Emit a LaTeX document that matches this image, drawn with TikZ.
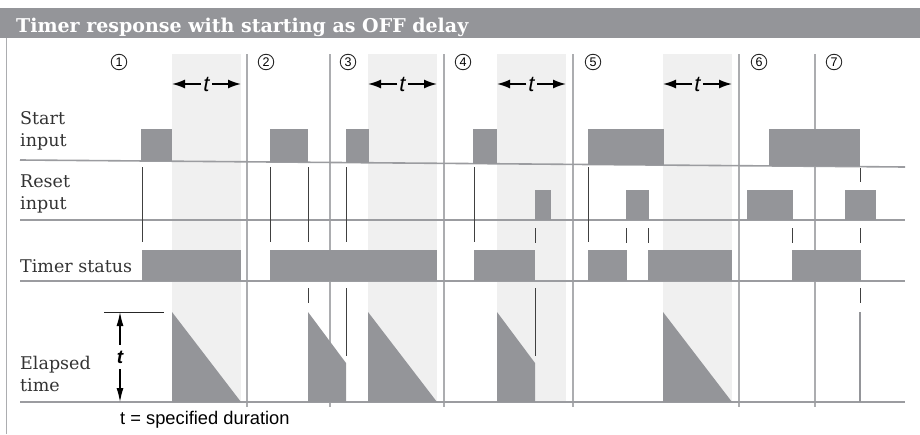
\documentclass[tikz,border=0pt]{standalone}
\usepackage{fontspec}
\setmainfont{DejaVu Serif}
\setsansfont{Liberation Sans}
\usetikzlibrary{arrows.meta,calc}
\definecolor{barfill}{RGB}{148,149,153}
\definecolor{winshade}{RGB}{240,240,240}
\definecolor{linegray}{RGB}{155,156,160}
\definecolor{divgray}{RGB}{172,173,176}
\tikzset{
  pulse/.style={
    fill=barfill,
    draw=none
  },
  window/.style={
    fill=winshade,
    draw=none
  },
  rowline/.style={
    draw=linegray,
    line width=1.6pt
  },
  divider/.style={
    draw=divgray,
    line width=1.3pt
  },
  marker/.style={
    draw=black!75,
    line width=0.8pt
  },
  rowlabel/.style={
    anchor=west,
    align=left,
    inner sep=0pt,
    text=black!80,
    font=\fontsize{17.5}{22}\selectfont
  },
  stepno/.style={
    shape=circle,
    draw=black!85,
    line width=0.9pt,
    minimum size=15.5pt,
    inner sep=0pt,
    font=\sffamily\fontsize{12.5}{12.5}\selectfont
  },
  tlabel/.style={
    inner sep=2pt,
    font=\sffamily\itshape\fontsize{22}{22}\selectfont
  },
  tarrow/.style={
    -{Latex[length=13pt,width=9pt]},
    line width=1.6pt
  },
  dimarrow/.style={
    -{Latex[length=14pt,width=7pt]},
    line width=1.2pt
  }
}

\begin{document}
\begin{tikzpicture}[x=1pt,y=-1pt]
  \useasboundingbox (0,0) rectangle (920,434);
  % header
  \fill[barfill] (0,8) rectangle (920,38);
  \node[anchor=base west,text=white,inner sep=0pt,font=\bfseries\fontsize{19}{20}\selectfont] (title) at (16,32) {Timer response with starting as OFF delay};
  \draw[divgray,line width=1pt] (6,38) -- (6,434);
  % t windows
  \foreach \a/\b in {172/241,368/437,497/566,663/732}
    \fill[window] (\a,54) rectangle (\b,402);
  % section dividers
  \foreach \x in {247,330,444,573,739,815}
    \draw[divider] (\x,54) -- (\x,407);
  % signal rows
  \draw[rowline] (20,160) -- (905,167);
  \draw[rowline] (20,220) -- (905,220);
  \draw[rowline] (20,281) -- (905,281);
  \draw[rowline] (20,402) -- (905,402);
  % start input
  \foreach \a/\b/\y in {141/172/161,270/308/162,346/369/163,473/497/164,588/664/165,769/860/166}
    \fill[pulse] (\a,129) rectangle (\b,\y);
  % reset input
  \foreach \a/\b in {535/551,626/649,747/793,845/876}
    \fill[pulse] (\a,190) rectangle (\b,220);
  % timer status
  \foreach \a/\b in {142/241,270/437,474/535,588/627,648/732,792/861}
    \fill[pulse] (\a,250) rectangle (\b,281);
  % elapsed time
  \fill[pulse] (172,402) -- (172,312) -- (241,402) -- cycle;
  \fill[pulse] (308,402) -- (308,312) -- (346,363) -- (346,402) -- cycle;
  \fill[pulse] (368,402) -- (368,312) -- (437,402) -- cycle;
  \fill[pulse] (497,402) -- (497,312) -- (535,363) -- (535,402) -- cycle;
  \fill[pulse] (663,402) -- (663,312) -- (732,402) -- cycle;
  \draw[barfill,line width=1.3pt] (860,312) -- (860,402);
  % edge markers
  \foreach \x in {142,270,308,346,474,588}
    \draw[marker] (\x,167) -- (\x,242);
  \foreach \x in {535,626,648,792,860}
    \draw[marker] (\x,228) -- (\x,243);
  \draw[marker] (860,168) -- (860,182);
  \foreach \x/\y in {308/303,860/303,346/356,535/356}
    \draw[marker] (\x,288) -- (\x,\y);
  % labels
  \node[rowlabel] (start) at (20,131) {Start\\input};
  \node[rowlabel] (reset) at (20,194) {Reset\\input};
  \node[rowlabel] (status) at (20,266) {Timer status};
  \node[rowlabel] (elapsed) at (20,374) {Elapsed\\time};
  \foreach \x [count=\i] in {119,266,348,463,593,759,834}
    \node[stepno] (n\i) at (\x,62) {\i};
  % t arrows
  \foreach \a/\b [count=\i] in {172/241,368/437,497/566,663/732} {
    \coordinate (wl\i) at (\a,84);
    \coordinate (wr\i) at (\b,84);
    \node[tlabel] (t\i) at ($(wl\i)!0.5!(wr\i)$) {t};
    \draw[tarrow] (t\i.west) -- (wl\i);
    \draw[tarrow] (t\i.east) -- (wr\i);
  }
  % duration
  \coordinate (dtop) at (120,312);
  \coordinate (dbot) at (120,402);
  \draw[black!85,line width=0.8pt] (104,312) -- (164,312);
  \node[tlabel,font=\sffamily\bfseries\itshape\fontsize{19}{19}\selectfont,inner sep=6pt] (tdim) at (120,357) {t};
  \draw[dimarrow] (tdim.north) -- (dtop);
  \draw[dimarrow] (tdim.south) -- (dbot);
  \node[anchor=base west,inner sep=0pt,font=\sffamily\fontsize{18.3}{19}\selectfont] (note) at (120,424) {t = specified duration};
\end{tikzpicture}
\end{document}
